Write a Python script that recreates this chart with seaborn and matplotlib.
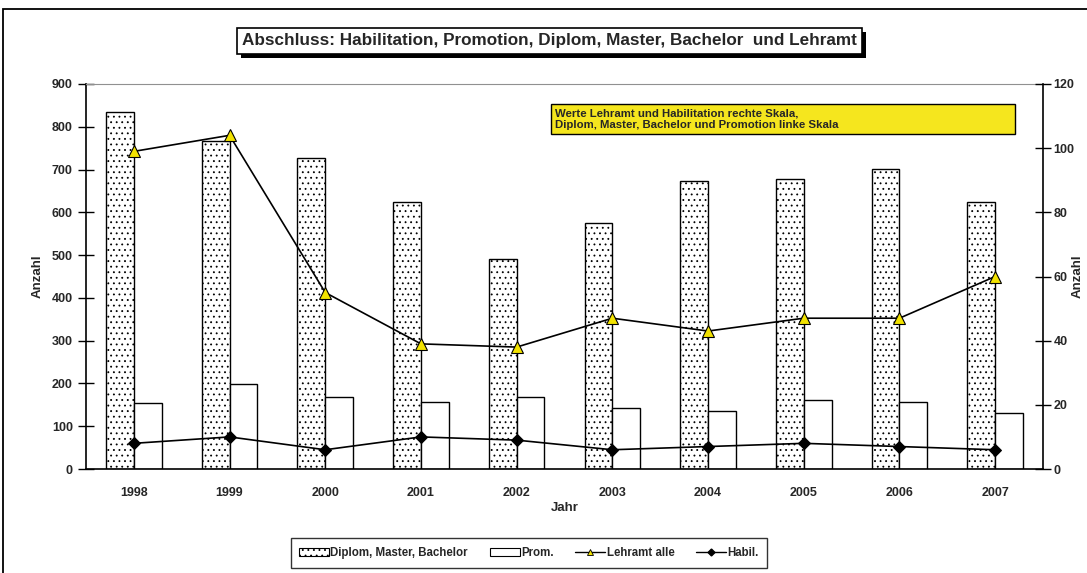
import numpy as np
import pandas as pd
import matplotlib
matplotlib.use("Agg")
import matplotlib.pyplot as plt
from matplotlib.patches import Rectangle, Patch
from matplotlib.lines import Line2D
import seaborn as sns

# ---- data -------------------------------------------------------------
years = ["1998", "1999", "2000", "2001", "2002", "2003", "2004", "2005", "2006", "2007"]
diplom = [835, 767, 726, 625, 490, 576, 674, 678, 701, 625]      # left scale
promotion = [155, 198, 168, 157, 168, 142, 136, 162, 156, 132]   # left scale
lehramt = [99, 104, 55, 39, 38, 47, 43, 47, 47, 60]             # right scale
habil = [8, 10, 6, 10, 9, 6, 7, 8, 7, 6]                         # right scale

left_ticks = list(range(0, 901, 100))
right_ticks = list(range(0, 121, 20))

title = "Abschluss: Habilitation, Promotion, Diplom, Master, Bachelor  und Lehramt"
note = ("Werte Lehramt und Habilitation rechte Skala,\n"
        "Diplom, Master, Bachelor und Promotion linke Skala")
series_names = ["Diplom, Master, Bachelor", "Prom.", "Lehramt alle", "Habil."]

# ---- style ------------------------------------------------------------
sns.set_theme(style="white")
plt.rcParams["font.family"] = ["Liberation Sans", "DejaVu Sans"]
plt.rcParams["font.weight"] = "bold"
plt.rcParams["hatch.linewidth"] = 0.6
plt.rcParams["hatch.color"] = "black"

W, H = 1087, 573
fig = plt.figure(figsize=(W / 100, H / 100), dpi=100)
fig.patch.set_facecolor("white")


def fx(px):
    return px / W


def fy(py):
    return 1 - py / H


ax = fig.add_axes([fx(86), fy(469), fx(1043) - fx(86), fy(84) - fy(469)])

bars = pd.DataFrame({
    "Jahr": years * 2,
    "Anzahl": diplom + promotion,
    "Serie": [series_names[0]] * len(years) + [series_names[1]] * len(years),
})
sns.barplot(data=bars, x="Jahr", y="Anzahl", hue="Serie", order=years,
            hue_order=series_names[:2], palette=["white", "white"],
            width=0.58, gap=0, edgecolor="black", linewidth=1.0,
            saturation=1, legend=False, ax=ax)

# stipple pattern for the Diplom bars
for patch in ax.patches[:len(years)]:
    patch.set_hatch("...")

tick_font = {"fontsize": 9, "fontweight": "bold"}
label_font = {"fontsize": 9.5, "fontweight": "bold"}

ax.set_xlim(-0.5, len(years) - 0.5)
ax.set_ylim(0, 900)
ax.set_yticks(left_ticks)
ax.set_yticklabels([str(t) for t in left_ticks], **tick_font)
ax.set_xticks(range(len(years)))
ax.set_xticklabels(years, **tick_font)
ax.set_xticks(np.arange(-0.5, len(years), 1.0), minor=True)
ax.tick_params(axis="x", which="major", length=0, pad=13)
ax.tick_params(axis="x", which="minor", direction="inout", length=7, width=1, color="black")
ax.tick_params(axis="y", direction="inout", length=11, width=1, color="black", pad=4, left=True)
ax.set_xlabel("Jahr", labelpad=2, **label_font)
ax.set_ylabel("Anzahl", labelpad=6, **label_font)
for side in ["left", "bottom"]:
    ax.spines[side].set_color("black")
    ax.spines[side].set_linewidth(1.2)
ax.spines["top"].set_color("#909090")
ax.spines["top"].set_linewidth(0.8)
ax.spines["right"].set_visible(False)

# right scale with line series
ax2 = ax.twinx()
pos = np.arange(len(years))
sns.lineplot(x=pos, y=lehramt, ax=ax2, color="black", linewidth=1.2,
             marker="^", markersize=8.5, markerfacecolor="#F2E200",
             markeredgecolor="black", markeredgewidth=0.8)
sns.lineplot(x=pos, y=habil, ax=ax2, color="black", linewidth=1.2,
             marker="D", markersize=6, markerfacecolor="black",
             markeredgecolor="black")
ax2.set_ylim(0, 120)
ax2.set_yticks(right_ticks)
ax2.set_yticklabels([str(t) for t in right_ticks], **tick_font)
ax2.tick_params(axis="y", direction="inout", length=11, width=1, color="black", pad=2, right=True)
ax2.set_ylabel("Anzahl", labelpad=-2, **label_font)
ax2.spines["right"].set_color("black")
ax2.spines["right"].set_linewidth(1.2)
for side in ["left", "top", "bottom"]:
    ax2.spines[side].set_visible(False)
ax2.grid(False)
ax.grid(False)

# outer chart frame
fig.patches.append(Rectangle((fx(3), fy(573 + 20)), 1.2, fy(9) - fy(593),
                             transform=fig.transFigure, fill=False,
                             edgecolor="black", linewidth=1.3, zorder=0))

# title box with drop shadow
fig.patches.append(Rectangle((fx(241), fy(58)), fx(862) - fx(237), fy(28) - fy(54),
                             transform=fig.transFigure, facecolor="black",
                             edgecolor="black", linewidth=0, zorder=1))
fig.patches.append(Rectangle((fx(237), fy(54)), fx(862) - fx(237), fy(28) - fy(54),
                             transform=fig.transFigure, facecolor="white",
                             edgecolor="black", linewidth=1.2, zorder=2))
fig.text(fx(549.5), fy(41), title, ha="center", va="center",
         fontsize=12.3, fontweight="bold", zorder=3)

# note box on the plot area
fig.patches.append(Rectangle((fx(551), fy(134)), fx(1015) - fx(551), fy(104) - fy(134),
                             transform=fig.transFigure, facecolor="#F5E61E",
                             edgecolor="black", linewidth=1.0, zorder=5))
fig.text(fx(555), fy(119), note, ha="left", va="center", fontsize=8.2,
         fontweight="bold", linespacing=1.15, zorder=6)

# legend
handles = [
    Patch(facecolor="white", edgecolor="black", hatch="...", linewidth=0.8),
    Patch(facecolor="white", edgecolor="black", linewidth=0.8),
    Line2D([], [], color="black", linewidth=1, marker="^", markersize=5,
           markerfacecolor="#F2E200", markeredgecolor="black", markeredgewidth=0.6),
    Line2D([], [], color="black", linewidth=1, marker="D", markersize=3.5,
           markerfacecolor="black", markeredgecolor="black"),
]
leg = fig.legend(handles, series_names, loc="center", bbox_to_anchor=(fx(529), fy(553)),
                 ncol=4, frameon=True, fancybox=False, shadow=False,
                 prop={"size": 8.3, "weight": "bold"}, handlelength=2.6,
                 handleheight=0.7, handletextpad=0.1, columnspacing=1.9,
                 borderpad=0.75, borderaxespad=0)
leg.get_frame().set_edgecolor("black")
leg.get_frame().set_linewidth(1.0)
leg.get_frame().set_boxstyle("square", pad=0)

fig.savefig("out.png", dpi=100)
